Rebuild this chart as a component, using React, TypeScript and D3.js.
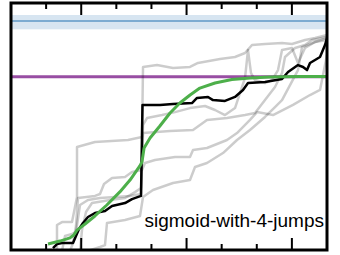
import * as d3 from "d3";
import { useRef, useEffect } from "react";

type Pt = [number, number];

// x: step (0..90), y: percent of target (purple = 100)
const xTicks = [10, 20, 30, 40, 50, 60, 70, 80];
const majorTicks = [20, 50, 80];

const targetLevel = 100;
const referenceMean = 132;
const referenceBand: [number, number] = [127.2, 135.4];

const runA: Pt[] = [
  [13.1, 0.6], [13.1, 14.9], [14.53, 16.6], [17.37, 16.6], [18.8, 31.0], [18.8, 59.7],
  [23.92, 62.5], [33.32, 63.7], [37.31, 65.4], [37.6, 105.6], [41.58, 106.7], [46.14, 105.0],
  [50.98, 105.6], [53.26, 107.9], [59.53, 110.2], [63.8, 111.3], [66.65, 113.6], [68.64, 118.2],
  [72.34, 118.8], [77.19, 119.3], [80.03, 118.8], [83.74, 121.1], [86.59, 122.2], [90, 123.9],
];
const runB: Pt[] = [
  [16.8, 0], [17.66, 4.6], [18.51, 14.3], [19.08, 30.4], [23.92, 31.6], [25.35, 32.7],
  [26.49, 38.4], [28.77, 41.9], [32.47, 42.5], [34.46, 45.3], [37.31, 46.5], [38.17, 50.5],
  [41.01, 52.2], [46.71, 53.9], [50.98, 53.9], [51.84, 57.9], [55.82, 59.1], [61.52, 63.7],
  [64.37, 67.7], [68.07, 75.2], [70.07, 79.7], [74.62, 78.0], [80.32, 83.8], [85.16, 89.5],
  [88.01, 92.4], [90, 112.4],
];
const runC: Pt[] = [
  [14.53, 0], [15.38, 8.6], [17.37, 9.8], [18.51, 10.9], [19.65, 26.4], [21.93, 29.3],
  [25.35, 30.4], [33.89, 31.6], [37.03, 32.7], [37.6, 67.7], [45.29, 68.8], [51.84, 69.4],
  [55.82, 75.2], [61.52, 76.3], [66.65, 78.0], [69.5, 79.2], [72.34, 86.6], [75.19, 94.1],
  [77.19, 102.1], [78.04, 111.3], [80.89, 116.5], [83.74, 118.2], [85.73, 121.1], [90, 122.8],
];
const runD: Pt[] = [
  [21.93, 0], [25.35, 2.3], [26.77, 3.4], [27.34, 16.1], [32.47, 17.8], [36.74, 20.1],
  [37.6, 31.0], [40.44, 35.0], [46.14, 39.0], [50.98, 40.7], [52.41, 48.2], [55.82, 50.5],
  [60.38, 56.2], [64.37, 63.7], [68.07, 69.4], [72.34, 76.9], [75.19, 82.6], [77.19, 86.6],
  [81.74, 103.8], [82.88, 117.0], [86.59, 119.9], [90, 121.1],
];
const runE: Pt[] = [
  [19.65, 0], [20.22, 12.0], [21.36, 22.4], [23.07, 27.5], [28.2, 29.3], [32.47, 30.4],
  [35.32, 33.8], [37.03, 36.1], [37.6, 72.3], [38.74, 76.3], [43.01, 78.0], [46.71, 79.7],
  [50.98, 82.0], [55.26, 83.2], [58.1, 80.9], [60.95, 78.0], [63.8, 82.0], [66.65, 99.3],
  [67.5, 115.3], [68.36, 102.1], [69.5, 98.1], [72.34, 96.4], [74.34, 98.1], [76.05, 103.8],
  [77.19, 115.3], [80.03, 116.5], [81.74, 107.9], [83.74, 116.5], [86.59, 119.9], [90, 122.2],
];
const otherRuns = [runA, runB, runC, runD, runE];

const bestRun: Pt[] = [
  [11.96, 1.7], [13.1, 4.0], [14.53, 4.6], [17.66, 4.6], [18.51, 8.6], [19.37, 12.6],
  [20.51, 16.1], [21.93, 19.5], [23.92, 21.8], [26.77, 22.9], [28.77, 25.8], [32.47, 27.5],
  [34.46, 29.8], [37.03, 31.6], [37.45, 83.8], [42.44, 83.8], [46.14, 84.3], [51.55, 84.9],
  [52.98, 87.8], [56.11, 88.4], [57.53, 86.6], [60.95, 86.1], [63.8, 88.4], [66.08, 92.4],
  [67.5, 96.4], [72.34, 97.0], [77.19, 98.7], [78.9, 102.7], [81.74, 106.7], [83.17, 105.6],
  [84.31, 103.8], [85.16, 107.9], [86.59, 109.6], [88.01, 111.3], [89.43, 118.2], [90.1, 122.8],
];

const fitted: Pt[] = [
  [10.54, 4.0], [13.96, 5.7], [16.8, 7.5], [17.9, 9.2], [18.8, 12.0], [21.1, 15.5],
  [23.9, 20.1], [27.3, 26.4], [31.0, 33.9], [33.9, 40.7], [36.7, 48.8], [37.3, 51.1],
  [37.9, 59.1], [39.6, 64.8], [42.4, 71.7], [45.3, 79.2], [48.1, 84.9], [51.0, 89.5],
  [53.8, 93.5], [58.1, 96.4], [62.9, 98.4], [68.1, 99.3], [73.8, 99.8], [82.3, 100.1],
  [90, 100.1],
];

const label = "sigmoid-with-4-jumps";

const W = 340;
const H = 255;
const left = 11;
const right = 327;
const top = 3;
const bottom = 250;

function draw(node: SVGSVGElement | null) {
  if (!node) return;
  const svg = d3.select(node);
  svg.selectAll("*").remove();

  const x = d3.scaleLinear().domain([0, 90]).range([left, right]);
  const y = d3.scaleLinear().domain([0, 142.3]).range([251, top]);

  svg
    .append("defs")
    .append("clipPath")
    .attr("id", "plot")
    .append("rect")
    .attr("x", left)
    .attr("y", top)
    .attr("width", right - left)
    .attr("height", bottom - top);

  const g = svg.append("g").attr("clip-path", "url(#plot)");

  // reference band + line
  g.append("rect")
    .attr("x", left)
    .attr("width", right - left)
    .attr("y", y(referenceBand[1]))
    .attr("height", y(referenceBand[0]) - y(referenceBand[1]))
    .attr("fill", "#377eb8")
    .attr("fill-opacity", 0.2);
  g.append("line")
    .attr("x1", left)
    .attr("x2", right)
    .attr("y1", y(referenceMean))
    .attr("y2", y(referenceMean))
    .attr("stroke", "#377eb8")
    .attr("stroke-opacity", 0.75)
    .attr("stroke-width", 1.5);

  g.append("line")
    .attr("x1", left)
    .attr("x2", right)
    .attr("y1", y(targetLevel))
    .attr("y2", y(targetLevel))
    .attr("stroke", "#984ea3")
    .attr("stroke-width", 3);

  const line = d3
    .line<Pt>()
    .x((d) => x(d[0]))
    .y((d) => y(d[1]));

  g.append("g")
    .selectAll("path")
    .data(otherRuns)
    .join("path")
    .attr("d", line)
    .attr("fill", "none")
    .attr("stroke", "#000")
    .attr("stroke-opacity", 0.2)
    .attr("stroke-width", 2.5)
    .attr("stroke-linejoin", "round");

  g.append("path")
    .datum(bestRun)
    .attr("d", line)
    .attr("fill", "none")
    .attr("stroke", "#000")
    .attr("stroke-width", 2.5)
    .attr("stroke-linejoin", "round");

  g.append("path")
    .datum(fitted)
    .attr("d", line)
    .attr("fill", "none")
    .attr("stroke", "#4daf4a")
    .attr("stroke-width", 3)
    .attr("stroke-linejoin", "round");

  // ticks, inward on top and bottom
  const tickLen = (t: number) => (majorTicks.includes(t) ? 12 : 6);
  const ticks = svg.append("g").attr("stroke", "#000").attr("stroke-width", 2);
  ticks
    .selectAll("line.top")
    .data(xTicks)
    .join("line")
    .attr("class", "top")
    .attr("x1", (d) => x(d))
    .attr("x2", (d) => x(d))
    .attr("y1", top)
    .attr("y2", (d) => top + tickLen(d));
  ticks
    .selectAll("line.bottom")
    .data(xTicks)
    .join("line")
    .attr("class", "bottom")
    .attr("x1", (d) => x(d))
    .attr("x2", (d) => x(d))
    .attr("y1", bottom)
    .attr("y2", (d) => bottom - tickLen(d));

  svg
    .append("rect")
    .attr("x", left)
    .attr("y", top)
    .attr("width", right - left)
    .attr("height", bottom - top)
    .attr("fill", "none")
    .attr("stroke", "#000")
    .attr("stroke-width", 3);

  svg
    .append("text")
    .attr("x", 324)
    .attr("y", 227)
    .attr("text-anchor", "end")
    .attr("font-family", "'Liberation Sans', Arial, sans-serif")
    .attr("font-size", 19)
    .attr("fill", "#000")
    .text(label);
}

const App = () => {
  const ref = useRef<SVGSVGElement | null>(null);

  useEffect(() => {
    draw(ref.current);
  }, []);

  return (
    <svg
      ref={ref}
      width={W}
      height={H}
      style={{ position: "absolute", left: 0, top: 0, background: "#fff" }}
    ></svg>
  );
};

export default App;
